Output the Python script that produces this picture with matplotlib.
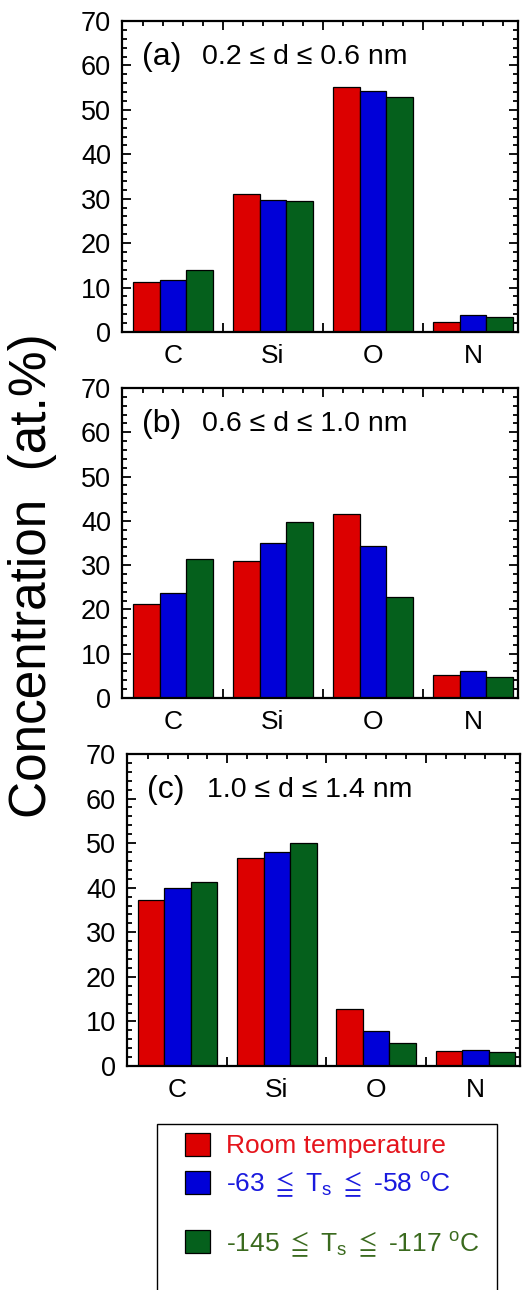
import numpy as np
import matplotlib
matplotlib.use("Agg")
import matplotlib.pyplot as plt
from matplotlib.patches import Rectangle
from matplotlib.ticker import MultipleLocator, FixedLocator

plt.rcParams['font.family'] = ['Liberation Sans', 'DejaVu Sans']
plt.rcParams['mathtext.fontset'] = 'custom'
plt.rcParams['mathtext.rm'] = 'Liberation Sans'
plt.rcParams['mathtext.it'] = 'Liberation Sans:italic'

# --- DATA ---
elements = ["C", "Si", "O", "N"]
panel_tags = ["(a)", "(b)", "(c)"]
panel_ranges = ["0.2 \u2264 d \u2264 0.6 nm", "0.6 \u2264 d \u2264 1.0 nm", "1.0 \u2264 d \u2264 1.4 nm"]

# concentration (at.%) for C, Si, O, N
room_a = [11.2, 31.1, 55.2, 2.2]
mid_a = [11.8, 29.8, 54.3, 3.9]
cold_a = [14.0, 29.5, 52.8, 3.3]

room_b = [21.3, 30.9, 41.5, 5.3]
mid_b = [23.8, 34.9, 34.3, 6.0]
cold_b = [31.4, 39.8, 22.9, 4.7]

room_c = [37.2, 46.6, 12.8, 3.3]
mid_c = [39.9, 48.1, 7.8, 3.7]
cold_c = [41.3, 50.0, 5.2, 3.1]

series_labels = ["Room temperature",
                 r"-63 $\leqq$ T$_\mathregular{s}$ $\leqq$ -58 $^\mathregular{o}$C",
                 r"-145 $\leqq$ T$_\mathregular{s}$ $\leqq$ -117 $^\mathregular{o}$C"]
bar_colors = ["#dc0000", "#0000d8", "#05601c"]
text_colors = ["#e5141c", "#1a1ade", "#3a6a1e"]

panels = [(room_a, mid_a, cold_a), (room_b, mid_b, cold_b), (room_c, mid_c, cold_c)]

# axes rectangles in pixels: left, top, right, bottom
W, H = 524, 1290
boxes = [(122, 21, 518, 332), (122, 388, 518, 698), (127, 754, 520, 1066)]

fig = plt.figure(figsize=(W / 100, H / 100), dpi=100)

x = np.arange(len(elements))
bw = 0.267
handles = None
for i, (vals, box) in enumerate(zip(panels, boxes)):
    l, t, r, b = box
    ax = fig.add_axes([l / W, 1 - b / H, (r - l) / W, (b - t) / H])
    hs = []
    for j, v in enumerate(vals):
        h = ax.bar(x + (j - 1) * bw, v, width=bw, color=bar_colors[j],
                   edgecolor="black", linewidth=0.9, zorder=2)
        hs.append(h)
    if handles is None:
        handles = hs
    ax.set_xlim(-0.51, 3.45)
    ax.set_ylim(0, 70)
    ax.yaxis.set_major_locator(MultipleLocator(10))
    ax.yaxis.set_minor_locator(MultipleLocator(2))
    ax.set_xticks([0.5, 1.5, 2.5])
    ax.set_xticklabels([])
    ax.xaxis.set_minor_locator(FixedLocator(np.arange(-0.3, 3.4, 0.2)))
    ax.tick_params(which="both", direction="in", top=True, right=True, width=1.3)
    ax.tick_params(which="major", length=6.5)
    ax.tick_params(which="minor", length=3.5)
    ax.tick_params(axis="y", labelsize=19.5, pad=8)
    for s in ax.spines.values():
        s.set_linewidth(1.6)
    for k, name in enumerate(elements):
        ax.text(x[k], -0.04, name, transform=ax.get_xaxis_transform(),
                ha="center", va="top", fontsize=19)
    ax.text(0.05, 0.885, panel_tags[i], transform=ax.transAxes,
            ha="left", va="center", fontsize=23)
    ax.text(0.203, 0.885, panel_ranges[i], transform=ax.transAxes,
            ha="left", va="center", fontsize=20.5)

fig.text(33 / W, 1 - 576 / H, "Concentration  (at.%)", rotation=90,
         ha="center", va="center", fontsize=37)

# legend frame runs off the bottom of the figure
frame = Rectangle((157 / W, -0.05), (497 - 157) / W, (1 - 1124 / H) + 0.05,
                  transform=fig.transFigure, fill=False, edgecolor="black",
                  linewidth=1.0)
fig.patches.append(frame)

leg_kw = dict(loc="upper left", bbox_transform=fig.transFigure, frameon=False,
              fontsize=19, handlelength=0.95, handleheight=0.95,
              handletextpad=0.62, labelspacing=0.42, borderpad=0,
              borderaxespad=0)
# first two rows sit close, the third one lower (as in the original)
leg1 = fig.legend(handles[:2], series_labels[:2],
                  bbox_to_anchor=(185 / W, 1 - 1133 / H), **leg_kw)
leg2 = fig.legend(handles[2:], series_labels[2:],
                  bbox_to_anchor=(185 / W, 1 - 1229 / H), **leg_kw)
for txt, c in zip(leg1.get_texts() + leg2.get_texts(), text_colors):
    txt.set_color(c)

fig.savefig("out.png", dpi=100)
